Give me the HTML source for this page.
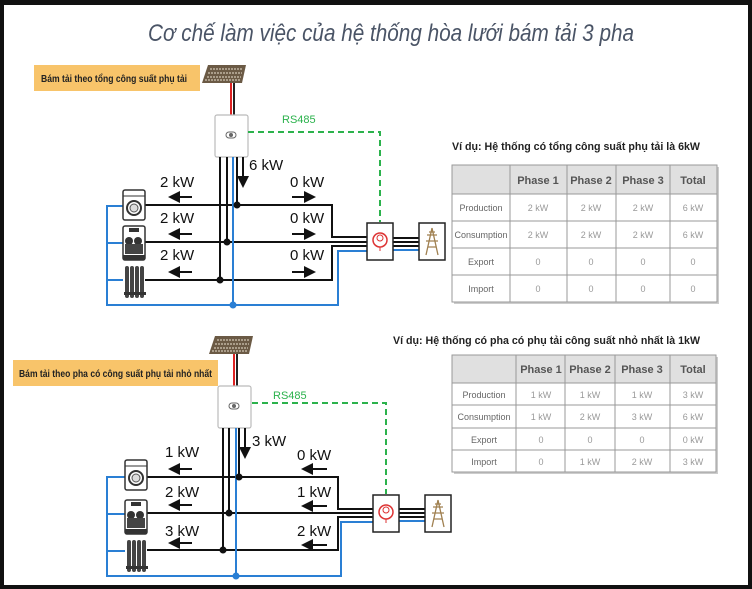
<!DOCTYPE html>
<html><head><meta charset="utf-8"><style>
html,body{margin:0;padding:0;background:#111;}
svg{display:block;font-family:"Liberation Sans","DejaVu Sans",sans-serif;}
</style></head><body>
<svg width="752" height="589" viewBox="0 0 752 589" xmlns="http://www.w3.org/2000/svg">
<defs>
<g id="washer"><rect x="0" y="0" width="22" height="30" rx="2" fill="#fff" stroke="#333" stroke-width="1.5"/><line x1="0" y1="6" x2="22" y2="6" stroke="#333"/><circle cx="11" cy="18" r="7" fill="#fff" stroke="#333" stroke-width="2"/><circle cx="11" cy="18" r="4" fill="#ddd" stroke="#555"/></g>
<g id="dish"><rect x="0" y="0" width="22" height="34" rx="2" fill="#fff" stroke="#333" stroke-width="1.5"/><rect x="6" y="2" width="10" height="4" fill="#333"/><circle cx="6" cy="15" r="4" fill="#333"/><circle cx="15" cy="15" r="4" fill="#333"/><rect x="2" y="18" width="18" height="10" fill="#444"/><rect x="0" y="29" width="22" height="5" fill="#333"/></g>
<g id="rad"><rect x="1" y="0" width="4" height="32" rx="2" fill="#444"/><rect x="6" y="0" width="4" height="32" rx="2" fill="#444"/><rect x="11" y="0" width="4" height="32" rx="2" fill="#444"/><rect x="16" y="0" width="4" height="32" rx="2" fill="#444"/><rect x="0" y="26" width="22" height="3" fill="#333"/></g>
<g id="meter"><rect x="0" y="0" width="26" height="37" fill="#fff" stroke="#222" stroke-width="1.5"/><circle cx="13" cy="17" r="7" fill="none" stroke="#d33" stroke-width="1.5"/><circle cx="13" cy="15" r="3" fill="none" stroke="#d33"/><line x1="13" y1="24" x2="13" y2="28" stroke="#d33"/></g>
<g id="grid"><rect x="0" y="0" width="26" height="37" fill="#fff" stroke="#222" stroke-width="1.5"/><path d="M13 5 L7 32 M13 5 L19 32 M8 12 L18 12 M7 18 L19 18 M9 24 L17 24 M10 9 L16 9" stroke="#a08050" stroke-width="1.3" fill="none"/></g>
<g id="panel"><polygon points="6,0 44,0 40,18 0,18" fill="#6b5a45"/><path d="M8 4 H41 M6 8 H40 M5 12 H39 M3 15 H38" stroke="#e8e0d0" stroke-width="1" stroke-dasharray="2,1"/></g>
<g id="inv"><rect x="0" y="0" width="33" height="42" rx="2" fill="#fff" stroke="#bbb" stroke-width="1.2"/><rect x="11" y="17" width="10" height="6" rx="3" fill="#fff" stroke="#666"/><circle cx="16" cy="20" r="2" fill="#666"/></g>
<marker id="ah" markerWidth="6" markerHeight="6" refX="5" refY="3" orient="auto" markerUnits="strokeWidth"><path d="M0,0 L6,3 L0,6 z" fill="#111"/></marker>
</defs>
<rect x="4" y="5" width="744" height="580" fill="#fff"/>
<text x="391" y="41" text-anchor="middle" font-size="24" font-style="italic" fill="#4a5466" textLength="486" lengthAdjust="spacingAndGlyphs">Cơ chế làm việc của hệ thống hòa lưới bám tải 3 pha</text>

<!-- ===== Diagram 1 ===== -->
<rect x="34" y="65" width="166" height="26" fill="#f8c46a"/>
<text x="41" y="82" font-size="10" font-weight="bold" fill="#222" textLength="146" lengthAdjust="spacingAndGlyphs">Bám tải theo tổng công suất phụ tải</text>
<use href="#panel" x="202" y="65"/>
<line x1="231" y1="83" x2="231" y2="115" stroke="#d22" stroke-width="2"/><line x1="234" y1="83" x2="234" y2="115" stroke="#222" stroke-width="2"/>
<use href="#inv" x="215" y="115"/>
<path d="M248 132 H380 V222" fill="none" stroke="#2bb24c" stroke-width="2" stroke-dasharray="6,4"/>
<text x="282" y="123" font-size="11" fill="#2bb24c">RS485</text>
<g stroke="#111" stroke-width="2" fill="none">
<line x1="220" y1="157" x2="220" y2="280"/><line x1="227" y1="157" x2="227" y2="242"/><line x1="237" y1="157" x2="237" y2="205"/>
<path d="M145 205 H332 V237 H367"/><path d="M145 242 H367"/><path d="M145 280 H332 V246 H367"/>
<line x1="393" y1="238" x2="419" y2="238"/><line x1="393" y1="242" x2="419" y2="242"/><line x1="393" y1="246" x2="419" y2="246"/>
</g>
<g stroke="#2a7fd4" stroke-width="2" fill="none">
<line x1="233" y1="157" x2="233" y2="305"/>
<path d="M123 206 H107 V305 H338 V251 H367"/><line x1="107" y1="243" x2="123" y2="243"/><line x1="107" y1="280" x2="123" y2="280"/>
<line x1="393" y1="250" x2="419" y2="250"/>
</g>
<g fill="#111"><circle cx="237" cy="205" r="3.5"/><circle cx="227" cy="242" r="3.5"/><circle cx="220" cy="280" r="3.5"/></g>
<circle cx="233" cy="305" r="3.5" fill="#2a7fd4"/>
<use href="#washer" x="123" y="190"/><use href="#dish" x="123" y="226"/><use href="#rad" x="124" y="266"/>
<use href="#meter" x="367" y="223"/><use href="#grid" x="419" y="223"/>
<line x1="243" y1="157" x2="243" y2="186" stroke="#111" stroke-width="2" marker-end="url(#ah)"/>
<text x="249" y="170" font-size="15" fill="#111">6 kW</text>
<g font-size="15" fill="#111">
<text x="160" y="187">2 kW</text><text x="160" y="223">2 kW</text><text x="160" y="260">2 kW</text>
<text x="290" y="187">0 kW</text><text x="290" y="223">0 kW</text><text x="290" y="260">0 kW</text>
</g>
<g stroke="#111" stroke-width="2" marker-end="url(#ah)">
<line x1="192" y1="197" x2="170" y2="197"/><line x1="192" y1="234" x2="170" y2="234"/><line x1="192" y1="272" x2="170" y2="272"/>
<line x1="292" y1="197" x2="314" y2="197"/><line x1="292" y1="234" x2="314" y2="234"/><line x1="292" y1="272" x2="314" y2="272"/>
</g>

<!-- Table 1 -->
<text x="452" y="150" font-size="11" font-weight="bold" fill="#222" textLength="248" lengthAdjust="spacingAndGlyphs">Ví dụ: Hệ thống có tổng công suất phụ tải là 6kW</text>
<rect x="454" y="167" width="265" height="137" fill="#ccc"/>
<rect x="452" y="165" width="265" height="137" fill="#fff" stroke="#999"/>
<rect x="452" y="165" width="265" height="29" fill="#e0e0e0"/>
<g stroke="#999" stroke-width="1">
<line x1="510" y1="165" x2="510" y2="302"/><line x1="567" y1="165" x2="567" y2="302"/><line x1="616" y1="165" x2="616" y2="302"/><line x1="670" y1="165" x2="670" y2="302"/>
<line x1="452" y1="194" x2="717" y2="194"/><line x1="452" y1="221" x2="717" y2="221"/><line x1="452" y1="248" x2="717" y2="248"/><line x1="452" y1="275" x2="717" y2="275"/>
<rect x="452" y="165" width="265" height="137" fill="none"/>
</g>
<g font-size="11" fill="#555" text-anchor="middle" font-weight="bold">
<text x="538" y="184">Phase 1</text><text x="591" y="184">Phase 2</text><text x="643" y="184">Phase 3</text><text x="693" y="184">Total</text>
</g>
<g font-size="9" fill="#666" text-anchor="middle">
<text x="481" y="211">Production</text><text x="481" y="238">Consumption</text><text x="481" y="265">Export</text><text x="481" y="292">Import</text>
</g>
<g font-size="9" fill="#999" text-anchor="middle">
<text x="538" y="211">2 kW</text><text x="591" y="211">2 kW</text><text x="643" y="211">2 kW</text><text x="693" y="211">6 kW</text>
<text x="538" y="238">2 kW</text><text x="591" y="238">2 kW</text><text x="643" y="238">2 kW</text><text x="693" y="238">6 kW</text>
<text x="538" y="265">0</text><text x="591" y="265">0</text><text x="643" y="265">0</text><text x="693" y="265">0</text>
<text x="538" y="292">0</text><text x="591" y="292">0</text><text x="643" y="292">0</text><text x="693" y="292">0</text>
</g>

<!-- ===== Diagram 2 ===== -->
<use href="#panel" x="209" y="336"/>
<rect x="13" y="360" width="205" height="26" fill="#f8c46a"/>
<text x="19" y="377" font-size="10" font-weight="bold" fill="#222" textLength="193" lengthAdjust="spacingAndGlyphs">Bám tải theo pha có công suất phụ tải nhỏ nhất</text>
<line x1="234" y1="354" x2="234" y2="386" stroke="#d22" stroke-width="2"/><line x1="237" y1="354" x2="237" y2="386" stroke="#222" stroke-width="2"/>
<use href="#inv" x="218" y="386"/>
<path d="M252 403 H386 V494" fill="none" stroke="#2bb24c" stroke-width="2" stroke-dasharray="6,4"/>
<text x="273" y="399" font-size="11" fill="#2bb24c">RS485</text>
<g stroke="#111" stroke-width="2" fill="none">
<line x1="223" y1="428" x2="223" y2="550"/><line x1="229" y1="428" x2="229" y2="513"/><line x1="239" y1="428" x2="239" y2="477"/>
<path d="M147 477 H338 V509 H373"/><path d="M147 513 H373"/><path d="M147 550 H338 V517 H373"/>
<line x1="399" y1="509" x2="425" y2="509"/><line x1="399" y1="513" x2="425" y2="513"/><line x1="399" y1="517" x2="425" y2="517"/>
</g>
<g stroke="#2a7fd4" stroke-width="2" fill="none">
<line x1="236" y1="428" x2="236" y2="576"/>
<path d="M125 477 H107 V576 H341 V522 H373"/><line x1="107" y1="514" x2="125" y2="514"/><line x1="107" y1="551" x2="125" y2="551"/>
<line x1="399" y1="521" x2="425" y2="521"/>
</g>
<g fill="#111"><circle cx="239" cy="477" r="3.5"/><circle cx="229" cy="513" r="3.5"/><circle cx="223" cy="550" r="3.5"/></g>
<circle cx="236" cy="576" r="3.5" fill="#2a7fd4"/>
<use href="#washer" x="125" y="460"/><use href="#dish" x="125" y="500"/><use href="#rad" x="126" y="540"/>
<use href="#meter" x="373" y="495"/><use href="#grid" x="425" y="495"/>
<line x1="245" y1="428" x2="245" y2="457" stroke="#111" stroke-width="2" marker-end="url(#ah)"/>
<text x="252" y="446" font-size="15" fill="#111">3 kW</text>
<g font-size="15" fill="#111">
<text x="165" y="457">1 kW</text><text x="165" y="497">2 kW</text><text x="165" y="536">3 kW</text>
<text x="297" y="460">0 kW</text><text x="297" y="497">1 kW</text><text x="297" y="536">2 kW</text>
</g>
<g stroke="#111" stroke-width="2" marker-end="url(#ah)">
<line x1="192" y1="469" x2="170" y2="469"/><line x1="192" y1="505" x2="170" y2="505"/><line x1="192" y1="543" x2="170" y2="543"/>
<line x1="327" y1="469" x2="303" y2="469"/><line x1="327" y1="506" x2="303" y2="506"/><line x1="327" y1="545" x2="303" y2="545"/>
</g>

<!-- Table 2 -->
<text x="393" y="344" font-size="11" font-weight="bold" fill="#222" textLength="307" lengthAdjust="spacingAndGlyphs">Ví dụ: Hệ thống có pha có phụ tải công suất nhỏ nhất là 1kW</text>
<rect x="454" y="357" width="264" height="117" fill="#ccc"/>
<rect x="452" y="355" width="264" height="117" fill="#fff" stroke="#999"/>
<rect x="452" y="355" width="264" height="28" fill="#e0e0e0"/>
<g stroke="#999" stroke-width="1">
<line x1="516" y1="355" x2="516" y2="472"/><line x1="565" y1="355" x2="565" y2="472"/><line x1="615" y1="355" x2="615" y2="472"/><line x1="670" y1="355" x2="670" y2="472"/>
<line x1="452" y1="383" x2="716" y2="383"/><line x1="452" y1="405" x2="716" y2="405"/><line x1="452" y1="428" x2="716" y2="428"/><line x1="452" y1="450" x2="716" y2="450"/>
<rect x="452" y="355" width="264" height="117" fill="none"/>
</g>
<g font-size="11" fill="#555" text-anchor="middle" font-weight="bold">
<text x="541" y="373">Phase 1</text><text x="590" y="373">Phase 2</text><text x="642" y="373">Phase 3</text><text x="693" y="373">Total</text>
</g>
<g font-size="9" fill="#666" text-anchor="middle">
<text x="484" y="398">Production</text><text x="484" y="420">Consumption</text><text x="484" y="443">Export</text><text x="484" y="465">Import</text>
</g>
<g font-size="9" fill="#999" text-anchor="middle">
<text x="541" y="398">1 kW</text><text x="590" y="398">1 kW</text><text x="642" y="398">1 kW</text><text x="693" y="398">3 kW</text>
<text x="541" y="420">1 kW</text><text x="590" y="420">2 kW</text><text x="642" y="420">3 kW</text><text x="693" y="420">6 kW</text>
<text x="541" y="443">0</text><text x="590" y="443">0</text><text x="642" y="443">0</text><text x="693" y="443">0 kW</text>
<text x="541" y="465">0</text><text x="590" y="465">1 kW</text><text x="642" y="465">2 kW</text><text x="693" y="465">3 kW</text>
</g>
</svg>
</body></html>
